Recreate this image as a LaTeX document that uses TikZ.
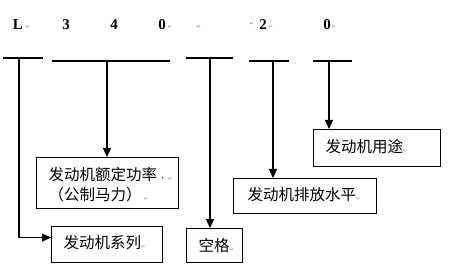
\documentclass[tikz,border=0pt]{standalone}
\usepackage{fontspec}
\setmainfont{Liberation Serif}
\newfontfamily\cjk{Noto Sans CJK SC}
\newfontfamily\mkfont{DejaVu Sans}
\usetikzlibrary{arrows.meta}
\newcommand\parmark{{\mkfont\fontsize{5}{6}\selectfont\textcolor{gray}{↵}}}
\begin{document}
\begin{tikzpicture}[x=1pt,y=-1pt,line width=1.1pt,
  box/.style={draw,line width=1.1pt,inner sep=0,anchor=north west},
  txt/.style={inner sep=0,anchor=west,font=\cjk\fontsize{15.5}{20}\selectfont,align=left},
  lab/.style={inner sep=0,font=\fontsize{15}{17}\selectfont\bfseries},
  pmk/.style={inner sep=0,font=\mkfont\fontsize{5}{6}\selectfont,text=gray},
  arr/.style={-{Triangle[length=9pt,width=8pt]},line width=1.1pt}]
\useasboundingbox (0,0) rectangle (450,267);
% top labels
\node[lab] (lL) at (18,25) {L};
\node[pmk] (p1) at (28,27) {↵};
\node[lab] (l3) at (66,25) {3};
\node[lab] (l4) at (114,25) {4};
\node[lab] (l0) at (162,25) {0};
\node[pmk] (p2) at (170,27) {↵};
\node[pmk] (p3) at (199,27) {↵};
\node[pmk] (p4) at (252,24) {↵};
\node[lab] (l2) at (263,25) {2};
\node[pmk] (p5) at (271,27) {↵};
\node[lab] (l0b) at (327,25) {0};
\node[pmk] (p6) at (334,27) {↵};
% bars
\coordinate (b1l) at (3,58); \coordinate (b1r) at (43,58); \coordinate (m1) at (19,58);
\coordinate (b2l) at (52,61); \coordinate (b2r) at (170,61); \coordinate (m2) at (107,61);
\coordinate (b3l) at (186,58); \coordinate (b3r) at (233,58); \coordinate (m3) at (210,58);
\coordinate (b4l) at (249,61); \coordinate (b4r) at (289,61); \coordinate (m4) at (273,61);
\coordinate (b5l) at (313,61); \coordinate (b5r) at (352,61); \coordinate (m5) at (329,61);
\draw (b1l) -- (b1r);
\draw (b2l) -- (b2r);
\draw (b3l) -- (b3r);
\draw (b4l) -- (b4r);
\draw (b5l) -- (b5r);
% boxes
\node[box,minimum width=142pt,minimum height=51pt] (power) at (36,157) {};
\node[box,minimum width=111pt,minimum height=36pt] (series) at (51,226) {};
\node[box,minimum width=56pt,minimum height=34pt] (space) at (186,228) {};
\node[box,minimum width=143pt,minimum height=35pt] (emis) at (233,178) {};
\node[box,minimum width=127pt,minimum height=37pt] (use) at (313,129) {};
% texts
\node[txt] (tpower) at (48,185) {发动机额定功率\,{\fontsize{6}{6}\selectfont ·}\,\parmark\\（公制马力）\,\parmark};
\node[txt] (tseries) at (63,243) {发动机系列\parmark};
\node[txt] (tspace) at (198,246) {空格\parmark};
\node[txt] (temis) at (247,195) {发动机排放水平\parmark};
\node[txt] (tuse) at (325,147) {发动机用途\parmark};
% arrows
\draw[arr] (m1) |- ([yshift=7pt]series.west);
\draw[arr] (m2) -- (m2 |- power.north);
\draw[arr] (m3) -- (m3 |- space.north);
\draw[arr] (m4) -- (m4 |- emis.north);
\draw[arr] (m5) -- (m5 |- use.north);
\end{tikzpicture}
\end{document}
